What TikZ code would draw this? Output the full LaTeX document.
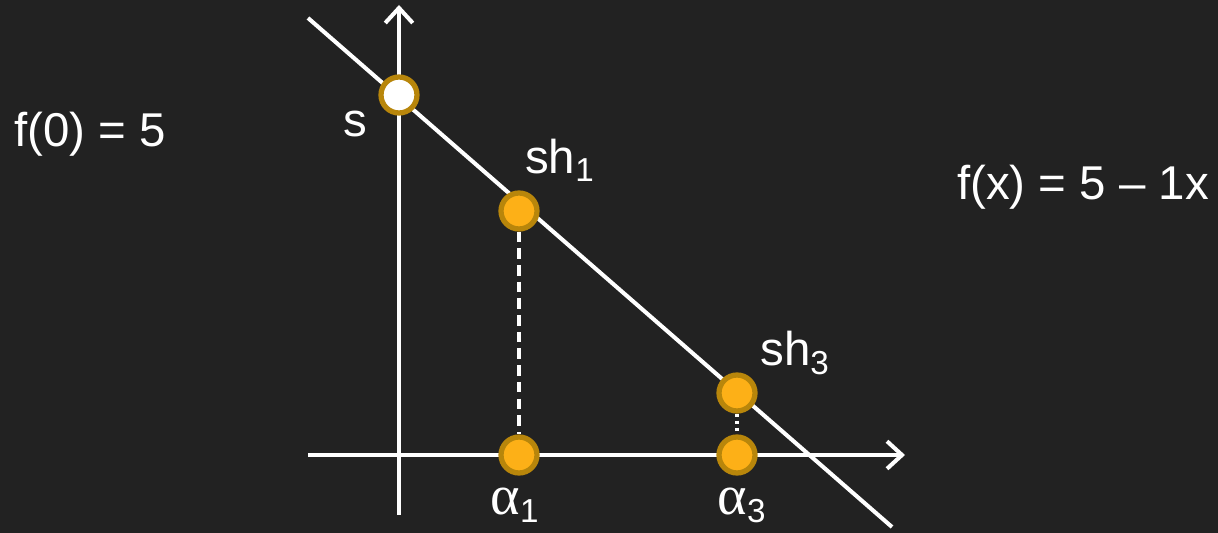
\documentclass[tikz,border=0pt]{standalone}
\usepackage{fontspec}
\setmainfont{Liberation Sans}
\newfontfamily\greekfont{Liberation Serif}
\usetikzlibrary{arrows.meta, positioning}
\definecolor{bgdark}{HTML}{222222}
\definecolor{dotfill}{HTML}{FDB017}
\definecolor{dotring}{HTML}{B8860B}

\begin{document}
\begin{tikzpicture}[x=0.02cm, y=-0.02cm, >={Straight Barb[length=3mm, width=5.5mm]},
  every node/.style={text=white, font=\fontsize{27}{30}\selectfont},
  axis/.style={draw=white, line width=2.3pt},
  dot/.style={circle, draw=dotring, fill=dotfill, line width=3pt, minimum size=0.72cm, inner sep=0pt},
  lbl/.style={inner sep=1pt}]
\useasboundingbox[fill=bgdark] (0,0) rectangle (1218,533);
% Axes
\coordinate (ybot) at (399,515);
\coordinate (ytop) at (399,5);
\coordinate (xleft) at (308,455);
\coordinate (xright) at (905,455);
\draw[axis, ->] (ybot) -- (ytop);
\draw[axis, ->] (xleft) -- (xright);
% Line f(x)
\coordinate (lstart) at (308,18);
\coordinate (lend) at (892,527);
\draw[axis] (lstart) -- (lend);
% Points
\node[dot] (sh1) at (519,211) {};
\node[dot] (sh3) at (737,393) {};
\node[dot] (a1) at (519,455) {};
\node[dot] (a3) at (737,455) {};
\node[dot, fill=white] (s) at (399,95) {};
\draw[white, line width=2pt, dash pattern=on 6pt off 3.5pt] (sh1) -- (a1);
\draw[white, line width=2pt, dash pattern=on 2pt off 2pt] (sh3) -- (a3);
% Labels
\node[lbl] (slbl) at (355,124) {s};
\node[lbl] (sh1lbl) at (560,160) {sh\textsubscript{1}};
\node[lbl] (sh3lbl) at (795,353) {sh\textsubscript{3}};
\node[lbl] (a1lbl) at (515,505) {{\greekfont\fontsize{32}{34}\selectfont α}\textsubscript{1}};
\node[lbl] (a3lbl) at (742,505) {{\greekfont\fontsize{32}{34}\selectfont α}\textsubscript{3}};
\node[lbl] (f0) at (90,134) {f(0) = 5};
\node[lbl] (fx) at (1083,187) {f(x) = 5 – 1x};
\end{tikzpicture}
\end{document}
